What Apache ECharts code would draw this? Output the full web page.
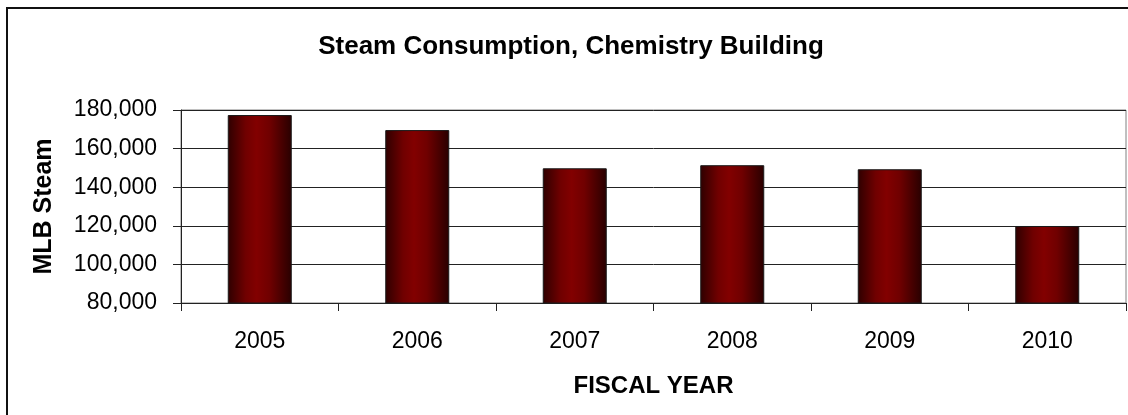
<!DOCTYPE html>
<html>
<head>
<meta charset="utf-8">
<script src="https://cdn.jsdelivr.net/npm/echarts@6/dist/echarts.min.js"></script>
<style>
html,body{margin:0;padding:0;background:#fff;}
#chart{width:1128px;height:415px;}
</style>
</head>
<body>
<div id="chart"></div>
<script>
const categories = ['2005', '2006', '2007', '2008', '2009', '2010'];
const steamValues = [177400, 169600, 149800, 151400, 149300, 119900];
const yTicks = { min: 80000, max: 180000, interval: 20000 };

const FONT = '"Liberation Sans", Arial, sans-serif';
const chart = echarts.init(document.getElementById('chart'));

const barGradient = new echarts.graphic.LinearGradient(0, 0, 1, 0, [
  { offset: 0, color: '#2e0000' },
  { offset: 0.28, color: '#700000' },
  { offset: 0.45, color: '#820000' },
  { offset: 0.65, color: '#700000' },
  { offset: 1, color: '#280000' }
]);

chart.setOption({
  animation: false,
  backgroundColor: '#ffffff',
  title: {
    text: 'Steam Consumption, Chemistry Building',
    left: 566,
    textAlign: 'center',
    top: 29,
    textStyle: { fontFamily: FONT, fontWeight: 'bold', fontSize: 26, color: '#000' }
  },
  graphic: [{
    type: 'rect',
    shape: { x: 7, y: 8, width: 1300, height: 600 },
    style: { fill: 'none', stroke: '#111', lineWidth: 2 },
    silent: true
  }],
  grid: {
    left: 181, right: 2, top: 110, bottom: 112,
    show: true, borderColor: '#808080', borderWidth: 1, backgroundColor: 'transparent'
  },
  xAxis: {
    type: 'category',
    data: categories,
    name: 'FISCAL YEAR',
    nameLocation: 'middle',
    nameGap: 71,
    nameTextStyle: { fontFamily: FONT, fontWeight: 'bold', fontSize: 24, color: '#000' },
    axisLine: { lineStyle: { color: '#222', width: 1 } },
    axisTick: { show: true, length: 8, alignWithLabel: false, lineStyle: { color: '#222' } },
    axisLabel: { fontFamily: FONT, fontSize: 23, color: '#000', margin: 27 }
  },
  yAxis: {
    type: 'value',
    min: yTicks.min, max: yTicks.max, interval: yTicks.interval,
    name: 'MLB Steam',
    nameLocation: 'middle',
    nameGap: 124,
    nameRotate: 90,
    nameTextStyle: { fontFamily: FONT, fontWeight: 'bold', fontSize: 25, color: '#000' },
    axisLine: { show: true, lineStyle: { color: '#222', width: 1 } },
    axisTick: { show: true, length: 8, lineStyle: { color: '#222' } },
    axisLabel: {
      fontFamily: FONT, fontSize: 23, color: '#000', margin: 24,
      formatter: v => v.toLocaleString('en-US')
    },
    splitLine: { show: true, lineStyle: { color: '#222', width: 1 } }
  },
  series: [{
    type: 'bar',
    data: steamValues,
    barWidth: 64,
    itemStyle: { color: barGradient, borderColor: '#1a1a1a', borderWidth: 1 }
  }]
});
</script>
</body>
</html>
